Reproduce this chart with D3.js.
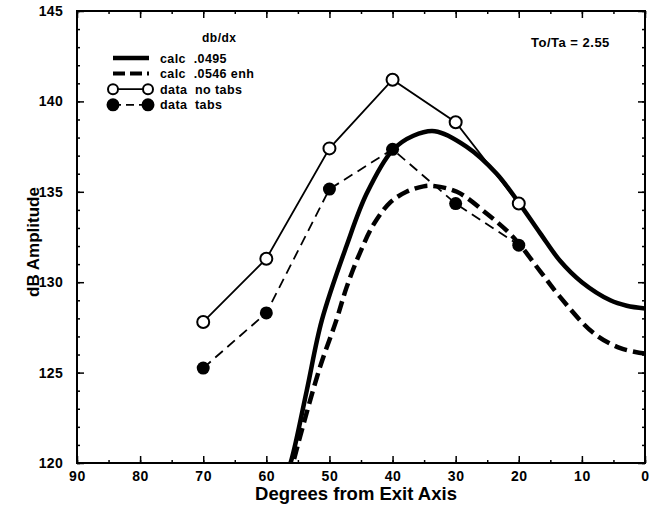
<!DOCTYPE html>
<html>
<head>
<meta charset="utf-8">
<script src="https://cdn.jsdelivr.net/npm/d3@7"></script>
<style>
  body { margin: 0; background: #fff; }
  text { font-family: "Liberation Sans", Arial, sans-serif; font-weight: bold; fill: #000; }
</style>
</head>
<body>
<div id="chart"></div>
<script>
// measured points
var angles = [70, 60, 50, 40, 30, 20];
var noTabs = [127.8, 131.3, 137.4, 141.2, 138.85, 134.35];
var tabs = [125.25, 128.3, 135.15, 137.35, 134.35, 132.05];

var calc0495 = [[57.2, 119.0], [56, 120.2], [53.6, 124.0], [51.2, 127.9], [47.3, 132.0], [44.1, 134.9],
  [40, 137.3], [36.7, 138.1], [33.3, 138.35], [28.3, 137.5], [23.5, 136.0], [20, 134.4],
  [16.6, 132.7], [13.5, 131.2], [10, 130.0], [5.5, 129.0], [2.9, 128.7], [0, 128.55]];
var calc0546 = [[56.3, 119.2], [55.5, 120.35], [51.5, 125.3], [48.9, 127.9], [47.3, 129.7], [45.2, 131.6],
  [43.0, 133.2], [40.4, 134.4], [37.8, 135.0], [35.1, 135.3], [33.5, 135.32], [29.8, 135.0],
  [25.1, 133.8], [20.9, 132.5], [16.6, 130.6], [13.5, 129.2], [8.2, 127.2], [3.9, 126.35], [0, 126.05]];

var xTicks = [90, 80, 70, 60, 50, 40, 30, 20, 10, 0];
var yTicks = [120, 125, 130, 135, 140, 145];

var svgWidth = 649;
var svgHeight = 508;
var margin = { top: 11, right: 4, bottom: 45, left: 77 };
var width = svgWidth - margin.left - margin.right;
var height = svgHeight - margin.top - margin.bottom;

var svg = d3.select("#chart").append("svg")
  .attr("width", svgWidth)
  .attr("height", svgHeight);

var chartGroup = svg.append("g")
  .attr("transform", `translate(${margin.left}, ${margin.top})`);

var x = d3.scaleLinear().domain([90, 0]).range([0, width]);
var y = d3.scaleLinear().domain([120, 145]).range([height, 0]);

svg.append("defs").append("clipPath").attr("id", "clip")
  .append("rect").attr("width", width).attr("height", height);

// minor ticks
var xMinor = d3.range(0, 91, 5);
var yMinor = d3.range(120, 146, 1);

function styleAxis(g) {
  g.select(".domain").remove();
  g.selectAll("line").attr("stroke", "#000").attr("stroke-width", 1.5);
}

chartGroup.append("g").attr("transform", `translate(0, ${height})`)
  .call(d3.axisBottom(x).tickValues(xMinor).tickSize(-3).tickFormat(""))
  .call(styleAxis);
chartGroup.append("g")
  .call(d3.axisTop(x).tickValues(xMinor).tickSize(-3).tickFormat(""))
  .call(styleAxis);
chartGroup.append("g")
  .call(d3.axisLeft(y).tickValues(yMinor).tickSize(-3).tickFormat(""))
  .call(styleAxis);
chartGroup.append("g").attr("transform", `translate(${width}, 0)`)
  .call(d3.axisRight(y).tickValues(yMinor).tickSize(-3).tickFormat(""))
  .call(styleAxis);

// major ticks + labels
var bottomAxis = chartGroup.append("g").attr("transform", `translate(0, ${height})`)
  .call(d3.axisBottom(x).tickValues(xTicks).tickSize(-7).tickPadding(8).tickFormat(d3.format("d")))
  .call(styleAxis);
bottomAxis.selectAll("text").attr("font-size", 14).attr("letter-spacing", 0.6)
  .attr("font-family", "Liberation Sans, Arial").attr("font-weight", "bold");

chartGroup.append("g")
  .call(d3.axisTop(x).tickValues(xTicks).tickSize(-7).tickFormat(""))
  .call(styleAxis);

var leftAxis = chartGroup.append("g")
  .call(d3.axisLeft(y).tickValues(yTicks).tickSize(-7).tickPadding(14).tickFormat(d3.format("d")))
  .call(styleAxis);
leftAxis.selectAll("text").attr("font-size", 14).attr("letter-spacing", 0.3)
  .attr("font-family", "Liberation Sans, Arial").attr("font-weight", "bold");

chartGroup.append("g").attr("transform", `translate(${width}, 0)`)
  .call(d3.axisRight(y).tickValues(yTicks).tickSize(-7).tickFormat(""))
  .call(styleAxis);

// frame
chartGroup.append("rect")
  .attr("width", width).attr("height", height)
  .attr("fill", "none").attr("stroke", "#000").attr("stroke-width", 2);

var plot = chartGroup.append("g").attr("clip-path", "url(#clip)");

var smooth = d3.line()
  .x(d => x(d[0]))
  .y(d => y(d[1]))
  .curve(d3.curveCatmullRom.alpha(0.5));

plot.append("path").datum(calc0495)
  .attr("d", smooth).attr("fill", "none").attr("stroke", "#000").attr("stroke-width", 4.5);
plot.append("path").datum(calc0546)
  .attr("d", smooth).attr("fill", "none").attr("stroke", "#000").attr("stroke-width", 4.5)
  .attr("stroke-dasharray", "13,6");

var pts = d3.line().x(d => x(d[0])).y(d => y(d[1]));
var noTabsData = angles.map((a, i) => [a, noTabs[i]]);
var tabsData = angles.map((a, i) => [a, tabs[i]]);

plot.append("path").datum(noTabsData)
  .attr("d", pts).attr("fill", "none").attr("stroke", "#000").attr("stroke-width", 1.8);
plot.append("path").datum(tabsData)
  .attr("d", pts).attr("fill", "none").attr("stroke", "#000").attr("stroke-width", 1.8)
  .attr("stroke-dasharray", "10,6");

plot.selectAll(".open").data(noTabsData).enter().append("circle")
  .attr("cx", d => x(d[0])).attr("cy", d => y(d[1])).attr("r", 6)
  .attr("fill", "#fff").attr("stroke", "#000").attr("stroke-width", 2);
plot.selectAll(".filled").data(tabsData).enter().append("circle")
  .attr("cx", d => x(d[0])).attr("cy", d => y(d[1])).attr("r", 6.5)
  .attr("fill", "#000");

// axis titles
svg.append("text")
  .attr("transform", `translate(39, ${margin.top + height / 2 + 5}) rotate(-90)`)
  .attr("text-anchor", "middle")
  .attr("font-size", 17)
  .text("dB Amplitude");

svg.append("text")
  .attr("x", 356)
  .attr("y", 500)
  .attr("text-anchor", "middle")
  .attr("font-size", 18.5)
  .text("Degrees from Exit Axis");

svg.append("text")
  .attr("x", 531).attr("y", 47)
  .attr("font-size", 13).attr("letter-spacing", 0.5)
  .text("To/Ta = 2.55");

// legend
var legendRows = [
  { label: "calc  .0495", dash: null, w: 4.5, marker: null },
  { label: "calc  .0546 enh", dash: "12,5", w: 4, marker: null },
  { label: "data  no tabs", dash: null, w: 1.8, marker: "open" },
  { label: "data  tabs", dash: "8,5", w: 1.8, marker: "filled" }
];

var legend = svg.append("g");
legend.append("text").attr("x", 202).attr("y", 42).attr("font-size", 12).attr("letter-spacing", 0.5).text("db/dx");

legendRows.forEach(function(r, i) {
  var ly = 58 + i * 15.6;
  legend.append("line")
    .attr("x1", 113).attr("x2", 149).attr("y1", ly).attr("y2", ly)
    .attr("stroke", "#000").attr("stroke-width", r.w)
    .attr("stroke-dasharray", r.dash);
  if (r.marker) {
    [113, 148].forEach(function(cx) {
      legend.append("circle").attr("cx", cx).attr("cy", ly).attr("r", r.marker === "open" ? 5 : 5.5)
        .attr("fill", r.marker === "open" ? "#fff" : "#000")
        .attr("stroke", "#000").attr("stroke-width", 2);
    });
  }
  legend.append("text").attr("x", 160).attr("y", ly + 4.5).attr("font-size", 12.5)
    .attr("letter-spacing", 0.4)
    .style("white-space", "pre")
    .text(r.label);
});
</script>
</body>
</html>
